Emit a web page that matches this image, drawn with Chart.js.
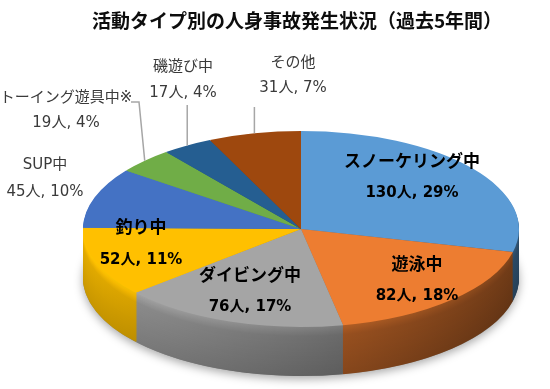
<!DOCTYPE html>
<html>
<head>
<meta charset="utf-8">
<script src="https://cdn.jsdelivr.net/npm/chart.js@4.4.1/dist/chart.umd.min.js"></script>
<style>
    html, body { margin: 0; padding: 0; background: #fff; }
    #wrap { width: 550px; height: 389px; position: relative; }
</style>
</head>
<body>
<div id="wrap"><canvas id="accident-pie"></canvas></div>
<script>
// ====== DATA ======
const categories = ['スノーケリング中', '遊泳中', 'ダイビング中', '釣り中', 'SUP中', 'トーイング遊具中※', '磯遊び中', 'その他'];
const persons = [130, 82, 76, 52, 45, 19, 17, 31];
const percents = [29, 18, 17, 11, 10, 4, 4, 7];
const sliceColors = ['#5B9BD5', '#ED7D31', '#A5A5A5', '#FFC000', '#4472C4', '#70AD47', '#255E91', '#9E480E'];

// ellipse the (circular) Chart.js pie gets squashed into, plus side depth
const PIE = { cx: 301, cy: 229, rx: 218, ry: 98, depth: 49 };

// where each data label sits (text centres), leader = 'poly' | 'down' | null
const labelSpots = [
    { x: 412, y: 163, y2: 193, inside: true },
    { x: 417, y: 266, y2: 296, inside: true },
    { x: 250, y: 277, y2: 307, inside: true },
    { x: 141, y: 229, y2: 260, inside: true },
    { x: 45, y: 165, y2: 192, inside: false },
    { x: 66, y: 98, y2: 123, inside: false, leader: 'poly', lx: 131, ly: 102 },
    { x: 183, y: 67, y2: 93, inside: false, leader: 'down', ly: 105 },
    { x: 293, y: 63, y2: 88, inside: false, leader: 'down', ly: 107 }
];

const FONT = '"DejaVu Sans", "Noto Sans CJK JP", sans-serif';

function shade(hex, f) {
    const n = parseInt(hex.slice(1), 16);
    const ch = [n >> 16, (n >> 8) & 255, n & 255].map(v => Math.max(0, Math.min(255, Math.round(v * f))));
    return `rgb(${ch.join(',')})`;
}

const pie3d = {
    id: 'pie3d',
    beforeDatasetsDraw(chart) {
        const ctx = chart.ctx;
        const arcs = chart.getDatasetMeta(0).data;
        const c = arcs[0].getProps(['x', 'y', 'outerRadius'], true);
        const sx = PIE.rx / c.outerRadius;
        const sy = PIE.ry / c.outerRadius;
        const squash = (dy) => {
            ctx.translate(PIE.cx, PIE.cy + dy);
            ctx.scale(sx, sy);
            ctx.translate(-c.x, -c.y);
        };

        // soft shadow under the pie
        ctx.save();
        squash(PIE.depth);
        ctx.shadowColor = 'rgba(0,0,0,0.35)';
        ctx.shadowBlur = 10;
        ctx.shadowOffsetY = 3;
        ctx.fillStyle = '#888';
        ctx.beginPath();
        ctx.arc(c.x, c.y, c.outerRadius, 0, Math.PI * 2);
        ctx.fill();
        ctx.restore();

        // side wall: stacked layers, darker further down and to the right
        for (let k = PIE.depth; k >= 1; k--) {
            const t = k / PIE.depth;
            const dk = t < 0.2 ? 1 - 0.15 * (t / 0.2) : 0.85 - 0.1 * (t - 0.2) / 0.8;
            ctx.save();
            squash(k);
            arcs.forEach((el, i) => {
                const a = el.getProps(['x', 'y', 'startAngle', 'endAngle', 'outerRadius'], true);
                const g = ctx.createLinearGradient(a.x - a.outerRadius, 0, a.x + a.outerRadius, 0);
                g.addColorStop(0, shade(sliceColors[i], 1.05 * dk));
                g.addColorStop(1, shade(sliceColors[i], 0.55 * dk));
                ctx.fillStyle = g;
                ctx.beginPath();
                ctx.moveTo(a.x, a.y);
                ctx.arc(a.x, a.y, a.outerRadius, a.startAngle, a.endAngle);
                ctx.closePath();
                ctx.fill();
            });
            ctx.restore();
        }

        // top face is drawn by Chart.js itself, in the squashed space
        ctx.save();
        squash(0);
    },
    afterDatasetsDraw(chart) {
        const ctx = chart.ctx;
        ctx.restore();

        const arcs = chart.getDatasetMeta(0).data;
        ctx.save();
        ctx.textAlign = 'center';
        ctx.textBaseline = 'middle';
        labelSpots.forEach((s, i) => {
            const a = arcs[i].getProps(['startAngle', 'endAngle'], true);
            const mid = (a.startAngle + a.endAngle) / 2;
            const ex = PIE.cx + PIE.rx * Math.cos(mid);
            const ey = PIE.cy + PIE.ry * Math.sin(mid);

            if (s.leader) {
                ctx.strokeStyle = '#A6A6A6';
                ctx.lineWidth = 1.5;
                ctx.beginPath();
                if (s.leader === 'poly') {
                    ctx.moveTo(s.lx, s.ly);
                    ctx.lineTo(s.lx + 8, s.ly);
                } else {
                    ctx.moveTo(ex, s.ly);
                }
                ctx.lineTo(ex, ey);
                ctx.stroke();
            }

            const line2 = persons[i] + '人, ' + percents[i] + '%';
            if (s.inside) {
                ctx.fillStyle = '#000';
                ctx.font = 'bold 17px ' + FONT;
                ctx.fillText(categories[i], s.x, s.y);
                ctx.font = 'bold 15px ' + FONT;
                ctx.fillText(line2, s.x, s.y2);
            } else {
                ctx.fillStyle = '#3a3a3a';
                ctx.font = '15px ' + FONT;
                ctx.fillText(categories[i], s.x, s.y);
                ctx.fillText(line2, s.x, s.y2);
            }
        });
        ctx.restore();
    }
};

const ctx1 = document.getElementById('accident-pie');
new Chart(ctx1, {
    type: 'pie',
    data: {
        labels: categories,
        datasets: [{
            data: persons,
            backgroundColor: sliceColors,
            borderWidth: 0
        }]
    },
    options: {
        responsive: true,
        maintainAspectRatio: false,
        animation: false,
        devicePixelRatio: 1,
        layout: { padding: { left: 44, top: 0, right: 0, bottom: 0 } },
        plugins: {
            legend: { display: false },
            tooltip: { enabled: false },
            title: {
                display: true,
                text: '活動タイプ別の人身事故発生状況（過去5年間）',
                color: '#0d0d0d',
                font: { family: '"Noto Sans CJK JP", sans-serif', size: 19, weight: 'bold' },
                padding: { top: 9, bottom: 10 }
            }
        }
    },
    plugins: [pie3d]
});
</script>
</body>
</html>
